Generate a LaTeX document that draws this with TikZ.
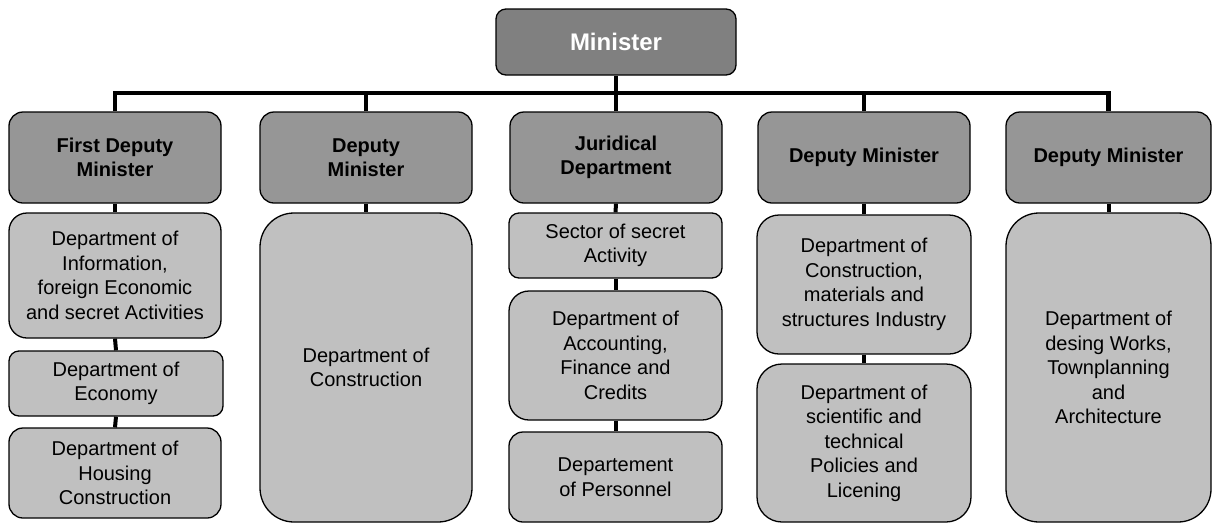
\documentclass[tikz,border=0pt]{standalone}
\usepackage{fontspec}
\setmainfont{Liberation Sans}
\definecolor{topgray}{HTML}{808080}
\definecolor{midgray}{HTML}{969696}
\definecolor{lowgray}{HTML}{C0C0C0}
\begin{document}
\begin{tikzpicture}[x=1pt,y=-1pt,
  box/.style={draw=black, line width=1.3pt, align=center, inner sep=0pt},
  headbox/.style={box, fill=topgray, text=white, rounded corners=10pt,
    font=\fontsize{24}{28}\selectfont\bfseries},
  deputybox/.style={box, fill=midgray, minimum height=91pt, rounded corners=14pt,
    font=\fontsize{20}{24}\selectfont\bfseries},
  deptbox/.style={box, fill=lowgray, font=\fontsize{20}{24.5}\selectfont},
  bus/.style={line width=4.5pt, line join=miter},
  link/.style={line width=4pt}
]
\useasboundingbox (0,0) rectangle (1212,523);

% top level
\node[headbox, minimum width=240pt, minimum height=66pt] (min) at (616,42) {Minister};

% second level
\node[deputybox, minimum width=212pt] (d1) at (115,157.5) {First Deputy\\Minister};
\node[deputybox, minimum width=212pt] (d2) at (366,157.5) {Deputy\\Minister};
\node[deputybox, minimum width=212pt] (d3) at (616,157.5) {Juridical\\Department};
\node[deputybox, minimum width=212pt] (d4) at (864,157.5) {Deputy Minister};
\node[deputybox, minimum width=205pt] (d5) at (1108.5,157.5) {Deputy Minister};

% departments, first column
\node[deptbox, minimum width=212pt, minimum height=125pt, rounded corners=18pt] (c1a) at (115,275.5)
  {Department of\\Information,\\foreign Economic\\and secret Activities};
\node[deptbox, minimum width=214pt, minimum height=65pt, rounded corners=10pt] (c1b) at (116,383.5)
  {Department of\\Economy};
\node[deptbox, minimum width=212pt, minimum height=90pt, rounded corners=14pt] (c1c) at (115,473)
  {Department of\\Housing\\Construction};

% second column
\node[deptbox, minimum width=212pt, minimum height=309pt, rounded corners=34pt] (c2) at (366,367.5)
  {Department of\\Construction};

% third column
\node[deptbox, minimum width=213pt, minimum height=65pt, rounded corners=10pt] (c3a) at (615.5,245.5)
  {Sector of secret\\Activity};
\node[deptbox, minimum width=213pt, minimum height=129pt, rounded corners=20pt] (c3b) at (615.5,355.5)
  {Department of\\Accounting,\\Finance and\\Credits};
\node[deptbox, minimum width=213pt, minimum height=90pt, rounded corners=14pt] (c3c) at (615.5,477)
  {Departement\\of Personnel};

% fourth column
\node[deptbox, minimum width=214pt, minimum height=139pt, rounded corners=22pt] (c4a) at (864,284.5)
  {Department of\\Construction,\\materials and\\structures Industry};
\node[deptbox, minimum width=214pt, minimum height=158pt, rounded corners=25pt] (c4b) at (864,443)
  {Department of\\scientific and\\technical\\Policies and\\Licening};

% fifth column
\node[deptbox, minimum width=205pt, minimum height=309pt, rounded corners=33pt] (c5) at (1108.5,367.5)
  {Department of\\desing Works,\\Townplanning\\and\\Architecture};

% connectors
\coordinate (busmid) at (616,93);
\draw[link] (min.south) -- (busmid);
\draw[bus] (d1.north) |- (busmid) -| (d5.north);
\foreach \n in {d2,d3,d4}
  \draw[link] (\n.north) -- (\n.north |- busmid);

\draw[link] (d1.south) -- (c1a.north);
\draw[link] (c1a.south) -- (c1b.north);
\draw[link] (c1b.south) -- (c1c.north);
\draw[link] (d2.south) -- (c2.north);
\draw[link] (d3.south) -- (c3a.north);
\draw[link] (c3a.south) -- (c3b.north);
\draw[link] (c3b.south) -- (c3c.north);
\draw[link] (d4.south) -- (c4a.north);
\draw[link] (c4a.south) -- (c4b.north);
\draw[link] (d5.south) -- (c5.north);
\end{tikzpicture}
\end{document}
